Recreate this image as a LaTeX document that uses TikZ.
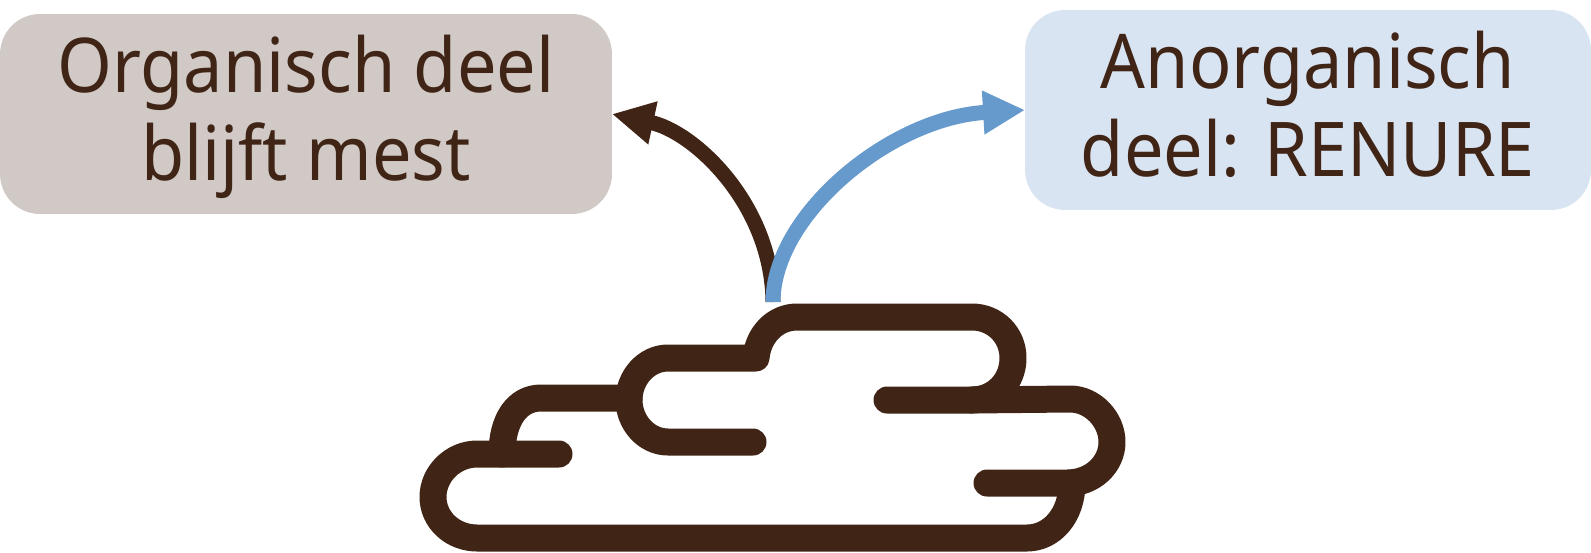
\documentclass[tikz,border=0pt]{standalone}
\usepackage{fontspec}
\setmainfont[FakeStretch=0.93]{Noto Sans}
\usepackage{xcolor}
\usetikzlibrary{arrows.meta}
\definecolor{mestc}{HTML}{402416}
\definecolor{renc}{HTML}{6699CC}
\definecolor{orgbg}{HTML}{D0C9C5}
\definecolor{renbg}{HTML}{D9E4F2}
\newcommand{\firstline}{\rule{0pt}{36.5pt}}
\newcommand{\lastline}{\rule[-11pt]{0pt}{11pt}}
\tikzset{
  box/.style={rounded corners=0.8cm,align=center,outer sep=0pt,inner sep=0pt,minimum height=4cm,text=mestc,font=\fontsize{43}{49.7}\selectfont},
  ar/.style={-{Triangle[length=8.4mm,width=8.2mm]},line width=3mm},
  cloudline/.style={draw=mestc,line width=5.4mm,line cap=round,line join=round}
}
\begin{document}
\begin{tikzpicture}[x=0.02cm,y=-0.02cm]
\useasboundingbox (0,0) rectangle (1591,552);
\node[box,fill=orgbg,minimum width=12.24cm] (organisch) at (306,114) {\firstline Organisch deel\\blijft mest\lastline};
\node[box,fill=renbg,minimum width=11.32cm] (renure) at (1308,110) {\firstline Anorganisch\\deel: RENURE\lastline};
\coordinate (mest) at (773,302);
\draw[ar,mestc] (mest) .. controls (772,205) and (695,132) .. (organisch.east);
\draw[ar,renc] (mest) .. controls (773,215) and (890,118) .. (renure.west);
\draw[cloudline] (887,400) -- (972,400) .. controls (995,400) and (1013,382) .. (1013,358) .. controls (1013,335) and (995,317) .. (972,317) -- (797,317) .. controls (775,317) and (758,335) .. (756,358) -- (668,358) .. controls (646,358) and (629,378) .. (629,400) .. controls (629,422) and (646,442) .. (668,442) -- (753,442);
\draw[cloudline] (972,400) -- (1070,399) .. controls (1093,399) and (1112,420) .. (1112,442) .. controls (1112,464) and (1093,483) .. (1067,483) -- (987,483);
\draw[cloudline] (1072,483) .. controls (1072,515) and (1052,538) .. (1027,538) -- (477,538) .. controls (453,538) and (433,520) .. (433,497) .. controls (433,474) and (453,454) .. (477,454) -- (559,454);
\draw[cloudline] (502,454) .. controls (502,420) and (517,398) .. (541,398) -- (629,398);
\end{tikzpicture}
\end{document}
